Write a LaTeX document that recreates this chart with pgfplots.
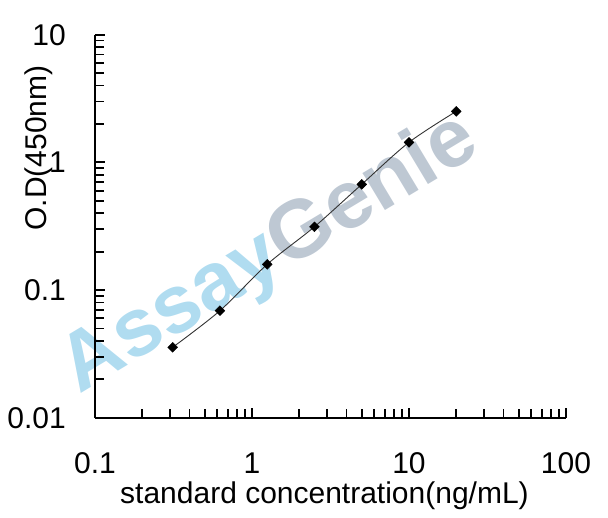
\documentclass[border=0pt]{standalone}
\usepackage{fontspec}
\setmainfont{Liberation Sans}
\usepackage{pgfplots}
\pgfplotsset{compat=1.18}

\definecolor{wmblue}{HTML}{B0DCF0}
\definecolor{wmgray}{HTML}{BEC8D3}

\begin{document}
\begin{tikzpicture}
\path[use as bounding box] (0,0) rectangle (608bp,518bp);
% watermark
\node[rotate=31, inner sep=0pt, font=\fontsize{82bp}{90bp}\selectfont\bfseries]
  at (270bp,263bp) {\textcolor{wmblue}{Assay}\textcolor{wmgray}{Genie}};
\begin{axis}[
  at={(95bp,100.3bp)}, anchor=south west, scale only axis,
  width=471bp, height=383bp,
  xmode=log, ymode=log,
  xmin=0.1, xmax=100, ymin=0.01, ymax=10,
  axis lines=left,
  axis line style={line width=1.8bp, black, -},
  tick align=inside,
  tick style={black, line width=1.8bp},
  major tick length=10bp, minor tick length=9bp,
  xtick={0.1,1,10,100}, xticklabels={0.1,1,10,100},
  minor xtick={0.2,0.3,0.4,0.5,0.6,0.7,0.8,0.9,2,3,4,5,6,7,8,9,20,30,40,50,60,70,80,90},
  ytick={0.01,0.1,1,10}, yticklabels={0.01,0.1,1,10},
  minor ytick={0.02,0.03,0.04,0.05,0.06,0.07,0.08,0.09,0.2,0.3,0.4,0.5,0.6,0.7,0.8,0.9,2,3,4,5,6,7,8,9},
  /pgf/number format/assume math mode=true,
  ticklabel style={font=\fontsize{30bp}{36bp}\selectfont},
  xticklabel style={inner sep=0pt, anchor=north, yshift=-35bp},
  yticklabel style={inner sep=0pt, anchor=east, xshift=-29bp},
  xlabel={standard concentration(ng/mL)},
  ylabel={O.D(450nm)},
  label style={font=\fontsize{30bp}{36bp}\selectfont},
  xlabel style={at={(axis description cs:0.5,0)}, anchor=base, yshift=-85.6bp, xshift=-6bp, inner sep=0pt},
  ylabel style={at={(axis description cs:-0.119,0.704)}, anchor=center, inner sep=0pt},
  clip=false,
]
\addplot[smooth, color=black!80, line width=0.9bp,
  mark=square*, mark size=3.5bp,
  mark options={rotate=45, fill=black, draw=black, line width=0.4bp, solid}]
  coordinates {
    (0.3125,0.0356)
    (0.625,0.0689)
    (1.25,0.159)
    (2.5,0.313)
    (5,0.673)
    (10,1.436)
    (20,2.51)
  };
\end{axis}
\end{tikzpicture}
\end{document}
